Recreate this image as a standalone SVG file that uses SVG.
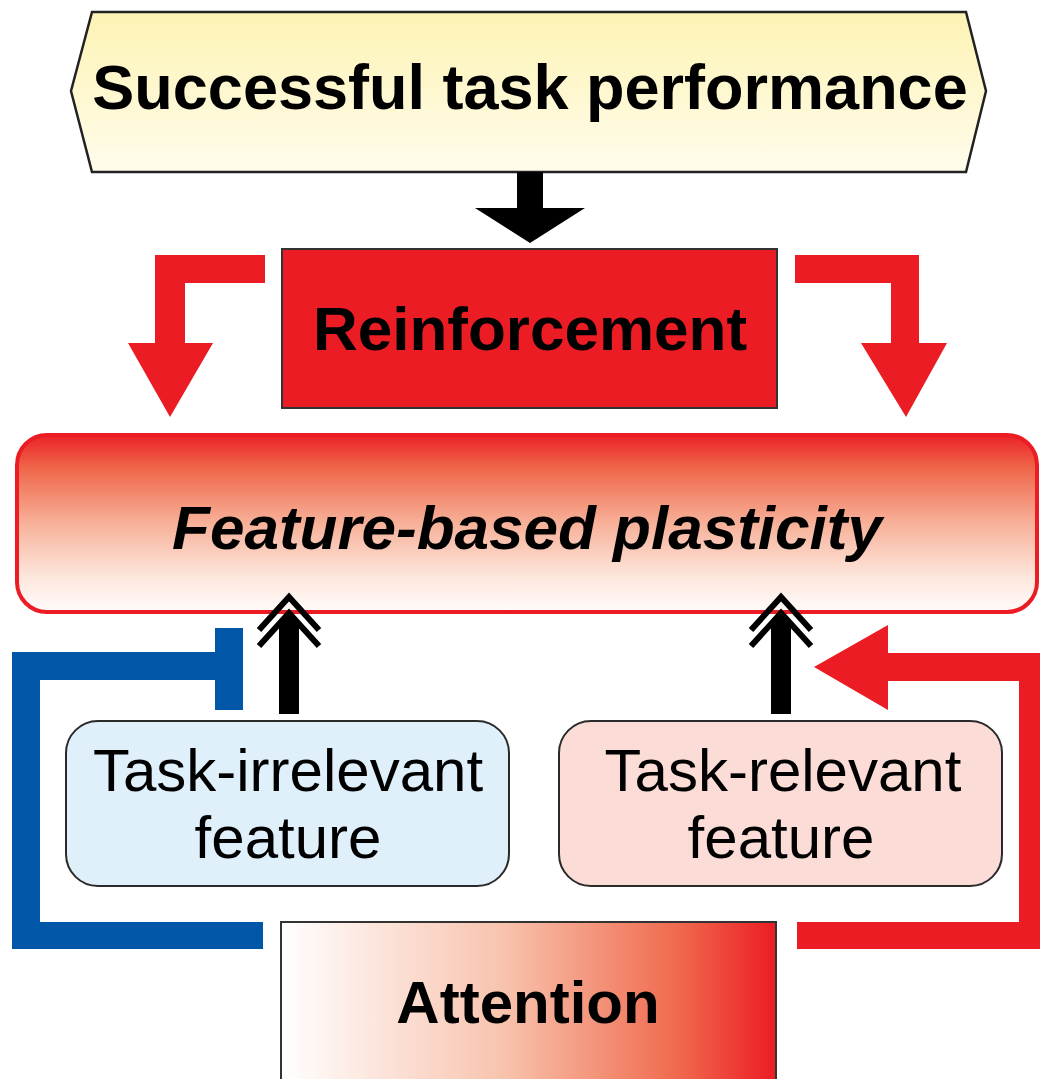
<svg xmlns="http://www.w3.org/2000/svg" width="1040" height="1079" viewBox="0 0 1040 1079">
<style>
.bold{font-family:"Liberation Sans",Arial,sans-serif;font-weight:bold;fill:#000}
.reg{font-family:"Liberation Sans",Arial,sans-serif;font-weight:normal;fill:#000}
.box{stroke:#2a2a2a;stroke-width:2}
.red{fill:#ec1c24}
.blue{fill:#0057a8}
.chev{fill:none;stroke:#000;stroke-width:6;stroke-linejoin:miter}
</style>
<defs>
<linearGradient id="gYellow" x1="0" y1="0" x2="0" y2="1">
<stop offset="0" stop-color="#fdf3b4"/>
<stop offset="1" stop-color="#fffcec"/>
</linearGradient>
<linearGradient id="gPlast" x1="0" y1="0" x2="0" y2="1">
<stop offset="0" stop-color="#ea2228"/>
<stop offset="0.18" stop-color="#ef6448"/>
<stop offset="0.5" stop-color="#f7b199"/>
<stop offset="0.8" stop-color="#fde6dc"/>
<stop offset="1" stop-color="#fffcfa"/>
</linearGradient>
<linearGradient id="gAtt" x1="0" y1="0" x2="1" y2="0">
<stop offset="0" stop-color="#ffffff"/>
<stop offset="0.45" stop-color="#f8c3ad"/>
<stop offset="0.8" stop-color="#f06a4e"/>
<stop offset="1" stop-color="#ec1c24"/>
</linearGradient>
</defs>
<rect width="1040" height="1079" fill="#fff"/>

<g id="node-success">
  <polygon points="92,12 966,12 986,91 966,172 92,172 71,91" fill="url(#gYellow)" stroke="#222" stroke-width="2.5"/>
  <text class="bold" x="530" y="109" font-size="63" text-anchor="middle">Successful task performance</text>
</g>

<g id="node-reinforcement">
  <rect x="282" y="249" width="495" height="159" fill="#ec1c24" stroke="#333" stroke-width="2"/>
  <text class="bold" x="530" y="350" font-size="62" text-anchor="middle">Reinforcement</text>
</g>

<g id="node-plasticity">
  <rect x="17" y="435" width="1020" height="177" rx="30" ry="30" fill="url(#gPlast)" stroke="#ec1c24" stroke-width="4"/>
  <text class="bold" x="527" y="549" font-size="62" font-style="italic" text-anchor="middle">Feature-based plasticity</text>
</g>

<g id="node-irrelevant">
  <rect x="66" y="721" width="443" height="165" rx="32" ry="32" fill="#dff0fb" class="box"/>
  <text class="reg" x="288" y="791" font-size="60" text-anchor="middle">Task-irrelevant</text>
  <text class="reg" x="288" y="858" font-size="60" text-anchor="middle">feature</text>
</g>

<g id="node-relevant">
  <rect x="559" y="721" width="443" height="165" rx="32" ry="32" fill="#fbdcd6" class="box"/>
  <text class="reg" x="783" y="791" font-size="60" text-anchor="middle">Task-relevant</text>
  <text class="reg" x="781" y="858" font-size="60" text-anchor="middle">feature</text>
</g>

<g id="node-attention">
  <rect x="281" y="922" width="495" height="170" fill="url(#gAtt)" stroke="#333" stroke-width="2"/>
  <text class="bold" x="528" y="1023" font-size="60" text-anchor="middle">Attention</text>
</g>

<g id="connectors">
  <!-- black arrow from top to reinforcement -->
  <polygon points="517,172 543,172 543,208 585,208 530,243 475,208 517,208" fill="#000"/>
  <!-- left red bent arrow -->
  <polygon class="red" points="265,255 155,255 155,343 128,343 170,417 213,343 185,343 185,283 265,283"/>
  <!-- right red bent arrow -->
  <polygon class="red" points="795,255 919,255 919,343 947,343 906,417 861,343 891,343 891,283 795,283"/>
  <!-- blue inhibitory connector -->
  <polygon class="blue" points="263,922 40,922 40,680 215,680 215,710 243,710 243,628 215,628 215,652 12,652 12,949 263,949"/>
  <!-- red excitatory connector -->
  <polygon class="red" points="797,922 1019,922 1019,681 888,681 888,710 814,667 888,625 888,653 1040,653 1040,949 797,949"/>
  <!-- left black double-headed arrow -->
  <rect x="279" y="622" width="20" height="92" fill="#000"/>
  <polygon points="279,622 289,612 299,622" fill="#000"/>
  <polyline class="chev" points="259,630 289,597 319,630"/>
  <polyline class="chev" points="259,646 289,613 319,646"/>
  <!-- right black double-headed arrow -->
  <rect x="771" y="622" width="20" height="92" fill="#000"/>
  <polygon points="771,622 781,612 791,622" fill="#000"/>
  <polyline class="chev" points="751,630 781,597 811,630"/>
  <polyline class="chev" points="751,646 781,613 811,646"/>
</g>
</svg>
